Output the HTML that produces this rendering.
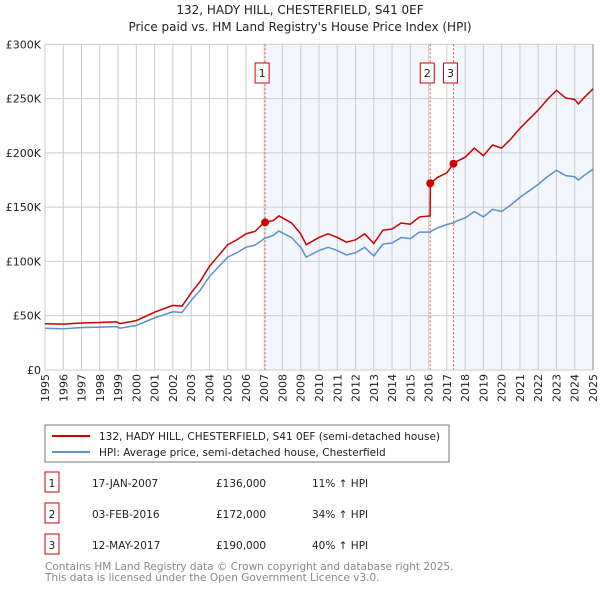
<!DOCTYPE html>
<html><head><meta charset="utf-8"><style>
body{margin:0;background:#fff;font-family:"Liberation Sans","DejaVu Sans",sans-serif;}
svg text{font-family:"DejaVu Sans","Liberation Sans",sans-serif;}
</style></head><body>
<svg id="c" width="600" height="590" xmlns="http://www.w3.org/2000/svg">
<text x="300" y="14" text-anchor="middle" font-size="12" fill="#222">132, HADY HILL, CHESTERFIELD, S41 0EF</text>
<text x="300" y="31" text-anchor="middle" font-size="12" fill="#222">Price paid vs. HM Land Registry's House Price Index (HPI)</text>
<g id="plot"></g>
<rect x="45" y="425" width="404" height="37" fill="#fff" stroke="#777"/>
<line x1="52" y1="436" x2="90" y2="436" stroke="#cc0000" stroke-width="2"/>
<text x="99" y="440" font-size="10.5" fill="#222">132, HADY HILL, CHESTERFIELD, S41 0EF (semi-detached house)</text>
<line x1="52" y1="452" x2="90" y2="452" stroke="#5b8fd0" stroke-width="2"/>
<text x="99" y="456" font-size="10.5" fill="#222">HPI: Average price, semi-detached house, Chesterfield</text>
<g id="table" font-size="10.5" fill="#222"></g>
<text x="45" y="570" font-size="10.5" fill="#888">Contains HM Land Registry data © Crown copyright and database right 2025.</text>
<text x="45" y="581" font-size="10.5" fill="#888">This data is licensed under the Open Government Licence v3.0.</text>
</svg>
<script>
const hpiT=[1995,1996,1997,1998,1998.9,1999.1,2000,2001,2002,2002.5,2003,2003.5,2004,2004.5,2005,2005.5,2006,2006.5,2007,2007.5,2007.8,2008.5,2009,2009.3,2010,2010.5,2011,2011.5,2012,2012.5,2013,2013.5,2014,2014.5,2015,2015.5,2016.08,2016.1,2016.5,2017,2017.36,2017.5,2018,2018.5,2019,2019.5,2020,2020.5,2021,2021.5,2022,2022.5,2023,2023.5,2024,2024.2,2024.5,2025];
const hpiV=[38.4,38,39,39.5,40,38.5,41,48,53.6,53,64,73.6,86,95,104,108,113,115,121,124,128,122,113,104,110,113,110,106,108,113,105,116,117,122,121,127,127,127.5,131,134,135.5,137,140,146,141,148,146,152,159,165,171,178,184,179,178,175,179,185];
const propV=[42.6,42.2,43.3,43.8,44.4,42.7,45.5,53.3,59.5,58.8,71,81.7,95.5,105.4,115.4,119.9,125.4,127.7,136,137.6,142,135.4,125.4,115.4,122.1,125.4,122.1,117.7,119.9,125.4,116.6,128.8,129.9,135.4,134.3,141,142,172,177.5,181.6,190,191.8,196,204.4,197.4,207.2,204.4,212.8,222.6,231,239.4,249.2,257.6,250.6,249.2,245,250.6,259];
const saleT=[2007.05,2016.09,2017.36];
const saleV=[136,172,190];
const saleLabels=["1","2","3"];
const saleDates=["17-JAN-2007","03-FEB-2016","12-MAY-2017"];
const salePrices=["£136,000","£172,000","£190,000"];
const saleHpi=["11% ↑ HPI","34% ↑ HPI","40% ↑ HPI"];
const yTicks=[0,50,100,150,200,250,300];
const yTickLabels=["£0","£50K","£100K","£150K","£200K","£250K","£300K"];
const xYears=[];for(let y=1995;y<=2025;y++)xYears.push(y);

const X0=45,X1=593,Y0=370,Y1=44.3;
const xs=t=>X0+(t-1995)/30*(X1-X0);
const ys=v=>Y0-v/300*(Y0-Y1);
const NS="http://www.w3.org/2000/svg";
const g=document.getElementById('plot');
function mk(tag,attrs,parent){const e=document.createElementNS(NS,tag);for(const k in attrs)e.setAttribute(k,attrs[k]);(parent||g).appendChild(e);return e;}
let r=mk('rect',{x:X0,y:Y1,width:X1-X0,height:Y0-Y1,fill:'#fff'});


r=mk('rect',{x:xs(saleT[0]),y:Y1,width:xs(saleT[1])-xs(saleT[0]),height:Y0-Y1,fill:'#eef3fc',opacity:0.7});


r=mk('rect',{x:xs(saleT[2]),y:Y1,width:X1-xs(saleT[2]),height:Y0-Y1,fill:'#eef3fc',opacity:0.7});


xYears.forEach(y=>{
 const l=mk('line',{x1:xs(y),x2:xs(y),y1:Y1,y2:Y0,stroke:'#ccc'});
 
 
 const t=mk('text',{transform:`translate(${xs(y)+4},${Y0+32}) rotate(-90)`,'font-size':'11',fill:'#222'});
 t.textContent=y;
 
 
});
yTicks.forEach((v,i)=>{
 const l=mk('line',{x1:X0,x2:X1,y1:ys(v),y2:ys(v),stroke:'#ccc'});
 
 
 const t=mk('text',{x:X0-4,y:ys(v)+4,'text-anchor':'end','font-size':'11',fill:'#222'});
 t.textContent=yTickLabels[i];
 
 
});
const ax=mk('line',{x1:X1,x2:X1,y1:Y1,y2:Y0,stroke:'#888'});


saleT.forEach((t,i)=>{
 const l=mk('line',{x1:xs(t),x2:xs(t),y1:Y1,y2:Y0,stroke:'#e06060','stroke-dasharray':'2,2'});
 
 
 const bx=xs(t)-3;
 const b=mk('rect',{x:bx-7,y:63,width:14,height:20,fill:'#fff',stroke:'#cc0000'});
 
 
 const tx=mk('text',{x:bx,y:77,'text-anchor':'middle','font-size':'11',fill:'#222'});
 tx.textContent=saleLabels[i];
 
 
});
const line=(vals,col,name)=>{const p=mk('polyline',{points:hpiT.map((t,i)=>xs(t)+','+ys(vals[i])).join(' '),fill:'none',stroke:col,'stroke-width':1.5});
 
 };
line(hpiV,'#5b8fd0','hpi-line');
line(propV,'#cc0000','property-price-line');
saleT.forEach((t,i)=>{const c=mk('circle',{cx:xs(t),cy:ys(saleV[i]),r:4,fill:'#cc0000'});
 
 });
const tb=document.getElementById('table');
saleT.forEach((t,i)=>{const y=483+i*31;
 const b=mk('rect',{x:45,y:y-11,width:14,height:20,fill:'#fff',stroke:'#cc0000'},tb);
 
 
 const cols=[[52,saleLabels[i],'middle'],[92,saleDates[i],'start'],[216,salePrices[i],'start'],[312,saleHpi[i],'start']];
 cols.forEach(c=>{const e=mk('text',{x:c[0],y:y+4,'text-anchor':c[2]},tb);e.textContent=c[1];
  
  });
});
</script>
</body></html>
